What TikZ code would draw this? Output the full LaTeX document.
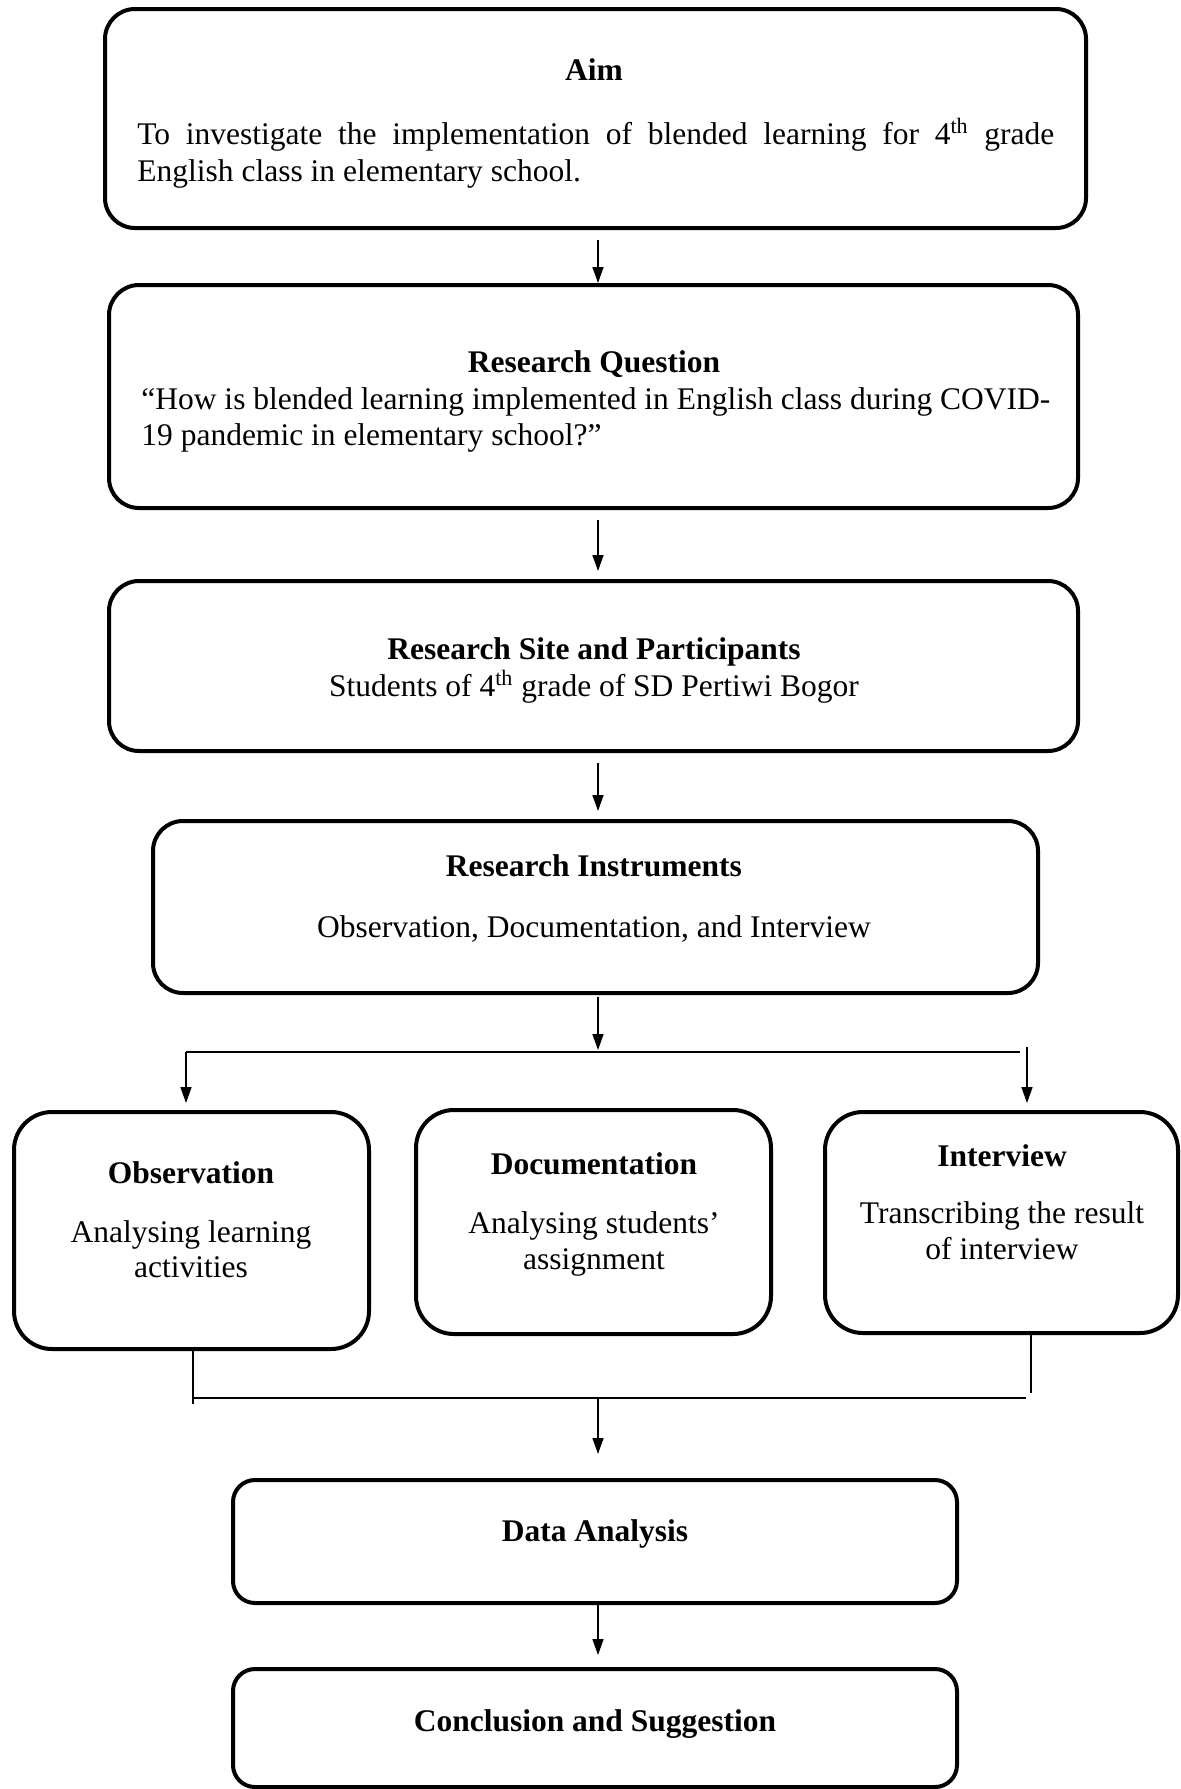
\documentclass[tikz,border=0pt]{standalone}
\usepackage{fontspec}
\setmainfont{Liberation Serif}
\usetikzlibrary{arrows.meta}
\newcommand{\fs}{\fontsize{15.75pt}{18.5pt}\selectfont}
\tikzset{
  box/.style={draw, line width=2pt, rounded corners=15pt, inner sep=0pt},
  sbox/.style={box, rounded corners=19pt},
  tbox/.style={box, rounded corners=11pt},
  txt/.style={inner sep=0pt, font=\fs},
  ttl/.style={inner sep=0pt, font=\fs\bfseries},
  arr/.style={-{Triangle[length=8pt,width=5.5pt]}, line width=0.75pt},
  ln/.style={line width=0.75pt},
  hln/.style={line width=1pt}
}
\begin{document}
\begin{tikzpicture}[x=0.5pt,y=-0.5pt]
\useasboundingbox (0,0) rectangle (1180,1789);
% boxes
\node[box, minimum width=490.5pt, minimum height=109.5pt] (aim) at (595.5,118.5) {};
\node[box, minimum width=484.5pt, minimum height=111.5pt] (rq) at (593.5,396.5) {};
\node[box, minimum width=484.5pt, minimum height=85pt] (rsp) at (593.5,666) {};
\node[box, minimum width=442.5pt, minimum height=86pt] (ri) at (595.5,907) {};
\node[sbox, minimum width=177.5pt, minimum height=118.5pt] (obs) at (191.5,1230.5) {};
\node[sbox, minimum width=177.5pt, minimum height=112pt] (doc) at (593.5,1222) {};
\node[sbox, minimum width=176.5pt, minimum height=110.5pt] (int) at (1001.5,1222.5) {};
\node[tbox, minimum width=362pt, minimum height=61.5pt] (da) at (595,1541.5) {};
\node[tbox, minimum width=362pt, minimum height=59pt] (cs) at (595,1728) {};
% texts
\node[ttl, anchor=base] (aimt) at (594,80) {Aim};
\node[txt, anchor=base west] (aim1) at (137,144) {\makebox[458.5pt][s]{To investigate the implementation of blended learning for 4\textsuperscript{th} grade}};
\node[txt, anchor=base west] (aim2) at (137,181) {English class in elementary school.};
\node[ttl, anchor=base] (rqt) at (594,372) {Research Question};
\node[txt, anchor=base west] (rq1) at (141,409) {“How is blended learning implemented in English class during COVID-};
\node[txt, anchor=base west] (rq2) at (141,445) {19 pandemic in elementary school?”};
\node[ttl, anchor=base] (rspt) at (594,659) {Research Site and Participants};
\node[txt, anchor=base] (rsp1) at (594,696) {Students of 4\textsuperscript{th} grade of SD Pertiwi Bogor};
\node[ttl, anchor=base] (rit) at (594,876) {Research Instruments};
\node[txt, anchor=base] (ri1) at (594,937) {Observation, Documentation, and Interview};
\node[ttl, anchor=base] (obst) at (191,1183) {Observation};
\node[txt, anchor=base] (obs1) at (191,1242) {Analysing learning};
\node[txt, anchor=base] (obs2) at (191,1277) {activities};
\node[ttl, anchor=base] (doct) at (594,1174) {Documentation};
\node[txt, anchor=base] (doc1) at (594,1233) {Analysing students’};
\node[txt, anchor=base] (doc2) at (594,1269) {assignment};
\node[ttl, anchor=base] (intt) at (1002,1166) {Interview};
\node[txt, anchor=base] (int1) at (1002,1223) {Transcribing the result};
\node[txt, anchor=base] (int2) at (1002,1259) {of interview};
\node[ttl, anchor=base] (dat) at (595,1541) {Data Analysis};
\node[ttl, anchor=base] (cst) at (595,1731) {Conclusion and Suggestion};
% junction coordinates
\coordinate (s1) at (598,1050);
\coordinate (sl) at (186,1052);
\coordinate (sr) at (1020,1052);
\coordinate (srt) at (1027,1047);
\coordinate (j1) at (193,1404);
\coordinate (jl) at (193,1398);
\coordinate (jr) at (1026,1398);
\coordinate (jrt) at (1031,1393);
\coordinate (jm) at (598,1398);
% connectors
\draw[arr] ([yshift=-5pt]aim.south -| s1) -- (rq.north -| s1);
\draw[arr] ([yshift=-5pt]rq.south -| s1) -- ([yshift=4pt]rsp.north -| s1);
\draw[arr] ([yshift=-5pt]rsp.south -| s1) -- ([yshift=4pt]ri.north -| s1);
\draw[arr] ([yshift=-1pt]ri.south -| s1) -- (s1);
\draw[hln] (sl) -- (sr);
\draw[arr] (sl) -- ([yshift=3.5pt]obs.north -| sl);
\draw[arr] (srt) -- ([yshift=3.5pt]int.north -| srt);
\draw[ln] (obs.south -| j1) -- (j1);
\draw[ln] (int.south -| jrt) -- (jrt);
\draw[hln] (jl) -- (jr);
\draw[arr] (jm) -- ([yshift=12pt]da.north -| jm);
\draw[arr] ([yshift=1pt]da.south -| jm) -- ([yshift=6pt]cs.north -| jm);
\end{tikzpicture}
\end{document}
